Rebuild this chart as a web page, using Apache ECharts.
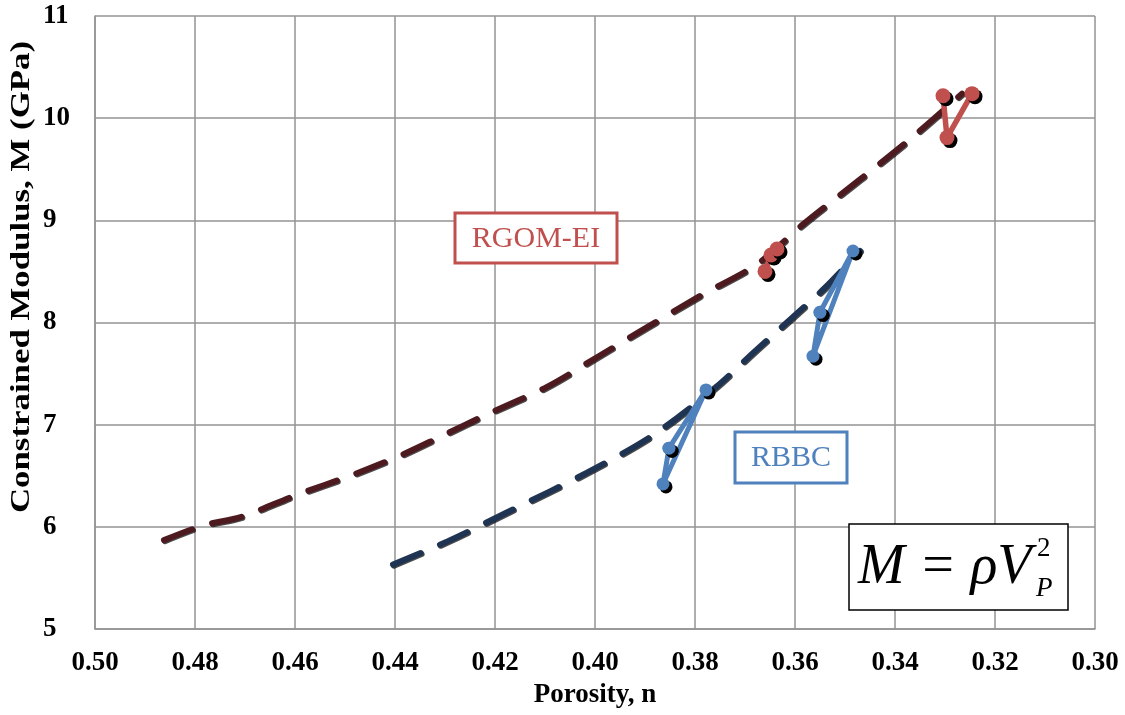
<!DOCTYPE html>
<html>
<head>
<meta charset="utf-8">
<script src="https://cdn.jsdelivr.net/npm/echarts@6/dist/echarts.min.js"></script>
<style>html,body{margin:0;padding:0;background:#fff;}#c{width:1125px;height:715px;}</style>
</head>
<body>
<div id="c"></div>
<script>
// ---- data ----
const xTicks = [0.50, 0.48, 0.46, 0.44, 0.42, 0.40, 0.38, 0.36, 0.34, 0.32, 0.30];
const yTicks = [5, 6, 7, 8, 9, 10, 11];

// RGOM-EI fitted trend (dashed, dark maroon)
const rgomFitN = [0.4862, 0.4786, 0.4706, 0.4598, 0.4484, 0.4388, 0.4310, 0.4212, 0.4096, 0.3996, 0.3904, 0.3790, 0.3676, 0.3584, 0.3470, 0.3366, 0.3266];
const rgomFitM = [5.87, 6.01, 6.10, 6.31, 6.51, 6.70, 6.88, 7.11, 7.37, 7.66, 7.93, 8.26, 8.57, 8.96, 9.40, 9.81, 10.24];

// RBBC fitted trend (dashed, dark navy)
const rbbcFitN = [0.4404, 0.4294, 0.4164, 0.4016, 0.3886, 0.3760, 0.3680, 0.3614, 0.3540, 0.3470];
const rbbcFitM = [5.63, 5.86, 6.17, 6.53, 6.89, 7.36, 7.72, 8.01, 8.34, 8.70];

// RBBC measured points (null = break between groups)
const rbbcN = [0.3852, 0.3864, 0.3778, 0.3852, null, 0.3550, 0.3564, 0.3484, 0.3550];
const rbbcM = [6.77, 6.42, 7.34, 6.77, null, 8.10, 7.67, 8.70, 8.10];

// RGOM-EI measured points
const rgomN = [0.3660, 0.3648, 0.3636, null, 0.3304, 0.3296, 0.3246];
const rgomM = [8.50, 8.66, 8.72, null, 10.22, 9.81, 10.24];

const labels = { rgom: 'RGOM-EI', rbbc: 'RBBC' };
const xTitle = 'Porosity, n';
const yTitle = 'Constrained Modulus, M (GPa)';

// ---- build ----
const FONT = '"Liberation Serif", "Times New Roman", serif';
const RED = '#c0504d', BLUE = '#4f81bd', MAROON = '#4d1a20', NAVY = '#1f3452';
function pairs(xs, ys) {
  return xs.map((x, i) => (x === null ? ['-', '-'] : [x, ys[i]]));
}
const gridColor = '#939393';

const chart = echarts.init(document.getElementById('c'), null, { renderer: 'canvas' });
chart.setOption({
  animation: false,
  backgroundColor: '#fff',
  grid: { left: 95, right: 30, top: 16, bottom: 86, containLabel: false },
  xAxis: {
    type: 'value', inverse: true,
    min: xTicks[xTicks.length - 1], max: xTicks[0], interval: 0.02,
    axisLine: { show: true, lineStyle: { color: gridColor, width: 1.5 } },
    axisTick: { show: false },
    splitLine: { show: true, lineStyle: { color: gridColor, width: 1.5 } },
    axisLabel: { color: '#000', fontFamily: FONT, fontWeight: 'bold', fontSize: 27, margin: 21,
      formatter: v => v.toFixed(2) },
    name: xTitle, nameLocation: 'middle', nameGap: 53,
    nameTextStyle: { color: '#000', fontFamily: FONT, fontWeight: 'bold', fontSize: 27 }
  },
  yAxis: {
    type: 'value', min: yTicks[0], max: yTicks[yTicks.length - 1], interval: 1,
    axisLine: { show: true, lineStyle: { color: gridColor, width: 1.5 } },
    axisTick: { show: false },
    splitLine: { show: true, lineStyle: { color: gridColor, width: 1.5 } },
    axisLabel: { color: '#000', fontFamily: FONT, fontWeight: 'bold', fontSize: 27, margin: 52, align: 'left' }
  },
  series: [
    {
      type: 'line', data: pairs(rgomFitN, rgomFitM), smooth: 0.3, symbol: 'none',
      lineStyle: { color: MAROON, width: 6, type: [30, 21], cap: 'round',
        shadowColor: 'rgba(0,0,0,0.7)', shadowOffsetX: 1, shadowOffsetY: 1, shadowBlur: 0 },
      z: 2
    },
    {
      type: 'line', data: pairs(rbbcFitN, rbbcFitM), smooth: 0.3, symbol: 'none',
      lineStyle: { color: NAVY, width: 6, type: [30, 21], cap: 'round',
        shadowColor: 'rgba(0,0,0,0.7)', shadowOffsetX: 1, shadowOffsetY: 1, shadowBlur: 0 },
      z: 2
    },
    {
      type: 'line', data: pairs(rbbcN, rbbcM), connectNulls: false,
      symbol: 'circle', symbolSize: 13, showAllSymbol: true,
      lineStyle: { color: BLUE, width: 5, cap: 'round', join: 'round' },
      itemStyle: { color: BLUE, shadowColor: '#000', shadowOffsetX: 3, shadowOffsetY: 3, shadowBlur: 0 },
      z: 3
    },
    {
      type: 'line', data: pairs(rgomN, rgomM), connectNulls: false,
      symbol: 'circle', symbolSize: 15, showAllSymbol: true,
      lineStyle: { color: RED, width: 5.5, cap: 'round', join: 'round' },
      itemStyle: { color: RED, shadowColor: '#000', shadowOffsetX: 3, shadowOffsetY: 3, shadowBlur: 0 },
      z: 3
    }
  ],
  graphic: [
    { type: 'text', x: 22, y: 277, rotation: Math.PI / 2, scaleX: 1.29,
      style: { text: yTitle, font: 'bold 27px ' + FONT, fill: '#000', align: 'center', verticalAlign: 'middle' } },
    { type: 'rect', shape: { x: 455, y: 213, width: 162, height: 50 },
      style: { fill: '#fff', stroke: RED, lineWidth: 3 }, z: 10 },
    { type: 'text', x: 536, y: 239, z: 11,
      style: { text: labels.rgom, font: '30px ' + FONT, fill: RED, align: 'center', verticalAlign: 'middle' } },
    { type: 'rect', shape: { x: 735, y: 432, width: 112, height: 51 },
      style: { fill: '#fff', stroke: BLUE, lineWidth: 3 }, z: 10 },
    { type: 'text', x: 791, y: 458, z: 11,
      style: { text: labels.rbbc, font: '30px ' + FONT, fill: BLUE, align: 'center', verticalAlign: 'middle' } },
    { type: 'rect', shape: { x: 849, y: 524, width: 219, height: 86 },
      style: { fill: '#fff', stroke: '#000', lineWidth: 1.5 }, z: 10 },
    { type: 'text', x: 858, y: 568, z: 11,
      style: { text: 'M = ρV', font: 'italic 56px ' + FONT, fill: '#000', align: 'left', verticalAlign: 'middle' } },
    { type: 'text', x: 1037, y: 549, z: 11,
      style: { text: '2', font: '27px ' + FONT, fill: '#000', align: 'left', verticalAlign: 'middle' } },
    { type: 'text', x: 1036, y: 589, z: 11,
      style: { text: 'P', font: 'italic 27px ' + FONT, fill: '#000', align: 'left', verticalAlign: 'middle' } }
  ]
});
</script>
</body>
</html>
